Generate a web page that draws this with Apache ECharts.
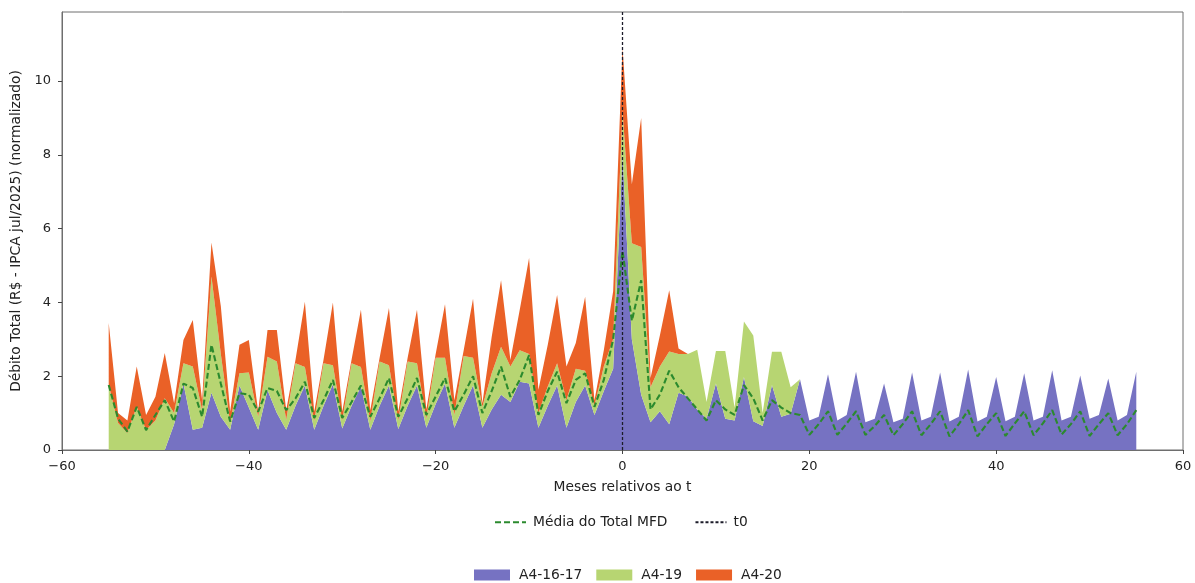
<!DOCTYPE html>
<html>
<head>
<meta charset="utf-8">
<script src="https://cdn.jsdelivr.net/npm/echarts@6/dist/echarts.min.js"></script>
<style>
html,body{margin:0;padding:0;background:#fff;}
#chart{width:1195px;height:583px;}
</style>
</head>
<body>
<div id="chart"></div>
<script>
// Months relative to t0 (the event month) covered by the data
const months = [];
for (let m = -55; m <= 55; m++) months.push(m);

// Axis domain shown: -60 .. 60
const axisMonths = [];
for (let m = -60; m <= 60; m++) axisMonths.push(String(m));

// Normalised total debit per group, month -55 .. 55
const a41617 = [
  0,0,0,0,0,0,0,
  0.7,1.8,0.55,0.6,1.55,0.9,0.55,1.75,1.15,
  0.55,1.62,1.0,0.55,1.2,1.75,0.55,1.2,1.78,0.58,
  1.2,1.72,0.55,1.2,1.75,0.57,1.2,1.75,0.6,1.25,
  1.8,0.6,1.2,1.75,0.6,1.1,1.5,1.3,1.85,1.8,
  0.6,1.2,1.75,0.6,1.3,1.75,0.95,1.6,2.2,8.0,
  3.0,1.5,0.75,1.05,0.7,1.55,1.45,1.1,0.85,1.8,
  0.85,0.8,1.98,0.78,0.65,1.76,0.9,0.98,1.92,0.8,
  0.9,2.05,0.8,0.95,2.12,0.75,0.85,1.8,0.75,0.85,
  2.1,0.8,0.9,2.1,0.77,0.9,2.18,0.77,0.9,1.98,
  0.78,0.9,2.08,0.8,0.9,2.16,0.8,0.9,2.02,0.85,
  0.95,1.94,0.8,0.95,2.12
];

const a419 = [
  1.76,0.73,0.46,1.17,0.54,0.8,1.4,0.3,0.55,1.71,
  0.48,3.15,1.7,0.18,0.33,0.95,0.35,0.91,1.4,0.26,
  1.15,0.5,0.23,1.15,0.52,0.22,1.15,0.53,0.23,1.2,
  0.55,0.23,1.2,0.6,0.25,1.25,0.7,0.35,1.35,0.75,
  0.57,0.98,1.3,0.96,0.85,0.8,0.4,0.52,0.6,0.75,
  0.9,0.4,0.25,0.66,0.8,1.2,2.6,4.0,0.95,1.21,
  1.97,1.05,1.15,1.62,0.45,0.88,1.83,0.35,1.5,2.32,
  0.35,0.9,1.76,0.72,
  0,0,0,0,0,0,0,0,0,0,
  0,0,0,0,0,0,0,0,0,0,
  0,0,0,0,0,0,0,0,0,0,
  0,0,0,0,0,0,0
];

const a420 = [
  1.68,0.27,0.34,1.09,0.41,0.64,1.23,0.27,0.63,1.26,
  0.27,0.92,1.3,0.31,0.77,0.88,0.14,0.72,0.85,0.27,
  0.1,1.77,0.26,0.1,1.7,0.24,0.1,1.55,0.3,0.1,
  1.55,0.24,0.1,1.45,0.25,0.1,1.45,0.4,0.15,1.6,
  0.1,0.99,1.8,0.18,1.1,2.6,0.63,1.13,1.85,0.91,
  0.7,2.0,0.15,0.44,1.3,1.7,1.6,3.5,0.25,0.84,
  1.66,0.15,
  0,0,0,0,0,0,0,0,0,0,
  0,0,0,0,0,0,0,0,0,0,
  0,0,0,0,0,0,0,0,0,0,
  0,0,0,0,0,0,0,0,0,0,
  0,0,0,0,0,0,0,0,0
];

// Mean of the MFD total
const mediaTotal = [
  1.76,0.85,0.5,1.17,0.54,0.95,1.35,0.77,1.8,1.68,
  0.9,2.85,1.8,0.77,1.54,1.5,1.04,1.68,1.6,1.08,
  1.4,1.85,0.87,1.35,1.9,0.87,1.3,1.75,0.9,1.4,
  1.95,0.9,1.4,1.95,0.95,1.45,1.95,1.05,1.5,2.0,
  1.0,1.6,2.26,1.44,1.9,2.57,0.95,1.6,2.12,1.27,
  1.9,2.08,1.17,1.9,3.0,5.4,3.5,4.6,1.1,1.5,
  2.15,1.7,1.4,1.1,0.8,1.35,1.1,0.95,1.76,1.4,
  0.8,1.35,1.15,1.0,0.95,0.41,0.7,1.05,0.41,0.72,
  1.05,0.41,0.65,0.95,0.4,0.7,1.05,0.4,0.7,1.05,
  0.37,0.7,1.08,0.37,0.7,1.0,0.38,0.72,1.05,0.4,
  0.72,1.08,0.42,0.7,1.05,0.38,0.7,1.0,0.4,0.7,
  1.08
];

const t0Month = 0;
const xTickStep = 20;
const yTicks = [0, 2, 4, 6, 8, 10];
const yRange = [0, 11.87];

const colors = {
  purple: '#7672c2',
  green: '#b7d572',
  orange: '#ea6127',
  mean: '#2b8a2e',
  t0: '#1c1c2a'
};

const pairs = arr => months.map((m, i) => [String(m), arr[i]]);
const fmtMinus = v => (Number(v) < 0 ? '\u2212' + Math.abs(Number(v)) : String(v));
const onTick = (idx, val) => Number(val) % xTickStep === 0;
const font = 'DejaVu Sans';
const textColor = '#222';

function areaSeries(name, data, color) {
  return {
    name: name,
    type: 'line',
    stack: 'total',
    data: pairs(data),
    symbol: 'none',
    lineStyle: { width: 0 },
    areaStyle: { color: color, opacity: 1 },
    itemStyle: { color: color },
    emphasis: { disabled: true },
    z: 2
  };
}

const chart = echarts.init(document.getElementById('chart'), null, { renderer: 'canvas' });

chart.setOption({
  animation: false,
  backgroundColor: '#ffffff',
  textStyle: { fontFamily: font },
  grid: {
    left: 62, top: 12, width: 1121, height: 438,
    show: true, borderColor: '#6e6e6e', borderWidth: 1, backgroundColor: 'transparent'
  },
  xAxis: {
    type: 'category',
    data: axisMonths,
    boundaryGap: false,
    name: 'Meses relativos ao t',
    nameLocation: 'middle',
    nameGap: 30,
    nameTextStyle: { color: textColor, fontSize: 13.8, fontFamily: font },
    axisLine: { show: true, onZero: false, lineStyle: { color: '#6e6e6e', width: 1 } },
    axisTick: { show: true, length: 4, interval: onTick, lineStyle: { color: '#444' } },
    axisLabel: { color: textColor, fontSize: 13, margin: 10, interval: onTick, formatter: fmtMinus, fontFamily: font },
    splitLine: { show: false }
  },
  yAxis: {
    type: 'value',
    min: yRange[0], max: yRange[1],
    name: 'Débito Total (R$ - IPCA jul/2025) (normalizado)',
    nameLocation: 'middle',
    nameGap: 35,
    nameTextStyle: { color: textColor, fontSize: 13.8, fontFamily: font },
    axisLine: { show: true, lineStyle: { color: '#6e6e6e', width: 1 } },
    axisTick: { show: true, length: 4, lineStyle: { color: '#444' }, customValues: yTicks },
    axisLabel: { color: textColor, fontSize: 13, margin: 11, customValues: yTicks, fontFamily: font },
    splitLine: { show: false }
  },
  legend: [
    {
      data: [
        { name: 'Média do Total MFD', itemStyle: { opacity: 0 } },
        { name: 't0', itemStyle: { opacity: 0 } }
      ],
      left: 494, top: 515,
      padding: 0,
      orient: 'horizontal',
      itemWidth: 31, itemHeight: 18,
      itemGap: 27,
      textStyle: { color: textColor, fontSize: 13.8, fontFamily: font, padding: [0, 0, 0, 2] },
      selectedMode: false
    },
    {
      data: ['A4-16-17', 'A4-19', 'A4-20'],
      left: 474, top: 568,
      padding: 0,
      orient: 'horizontal',
      icon: 'rect',
      itemWidth: 36, itemHeight: 11,
      itemGap: 14,
      textStyle: { color: textColor, fontSize: 13.8, fontFamily: font, padding: [0, 0, 0, 4] },
      selectedMode: false
    }
  ],
  series: [
    areaSeries('A4-16-17', a41617, colors.purple),
    areaSeries('A4-19', a419, colors.green),
    areaSeries('A4-20', a420, colors.orange),
    {
      name: 'Média do Total MFD',
      type: 'line',
      data: pairs(mediaTotal),
      symbol: 'none',
      lineStyle: { color: colors.mean, width: 2.1, type: [6, 3] },
      itemStyle: { color: colors.mean },
      emphasis: { disabled: true },
      z: 5
    },
    {
      name: 't0',
      type: 'line',
      data: [[String(t0Month), yRange[0]], [String(t0Month), yRange[1]]],
      symbol: 'none',
      lineStyle: { color: colors.t0, width: 1.3, type: [3, 2] },
      itemStyle: { color: colors.t0 },
      emphasis: { disabled: true },
      z: 6
    }
  ]
});
</script>
</body>
</html>
